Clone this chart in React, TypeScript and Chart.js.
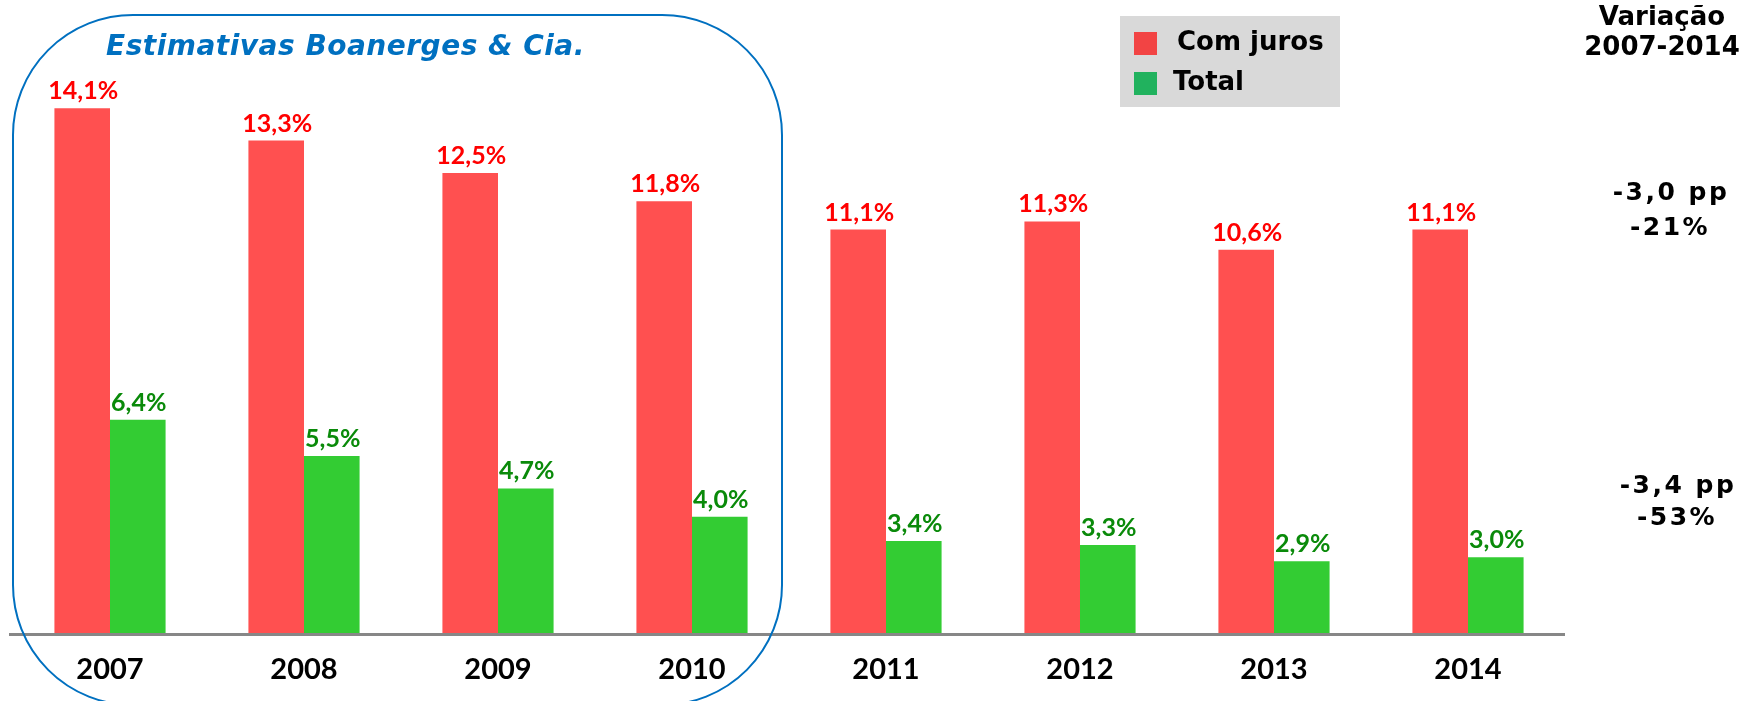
import React, { useEffect, useRef } from 'react';
import { Chart, registerables } from 'chart.js';

Chart.register(...registerables);

const years: string[] = ['2007', '2008', '2009', '2010', '2011', '2012', '2013', '2014'];
const comJuros: number[] = [14.1, 13.3, 12.5, 11.8, 11.1, 11.3, 10.6, 11.1];
const total: number[] = [6.4, 5.5, 4.7, 4.0, 3.4, 3.3, 2.9, 3.0];
const seriesNames: string[] = ['Com juros', 'Total'];
const variationHeader: string[] = ['Variação', '2007-2014'];
const variationComJuros: string[] = ['-3,0 pp', '-21%'];
const variationTotal: string[] = ['-3,4 pp', '-53%'];
const boxTitle = 'Estimativas Boanerges & Cia.';
const yMin = 1.1;
const yMax = 16.28;

const barColors = ['#FF5050', '#33CC33'];
const labelColors = ['#FF0000', '#0A8A0A'];
const legendColors = ['#F24444', '#21B25E'];

const fmt = (v: number) => v.toFixed(1).replace('.', ',') + '%';

const overlay = {
  id: 'overlay',
  beforeDraw(chart: any) {
    const ctx = chart.ctx as CanvasRenderingContext2D;
    ctx.save();
    ctx.fillStyle = '#D9D9D9';
    ctx.fillRect(1120, 16, 220, 91);
    const rows = [43, 83];
    seriesNames.forEach((name, i) => {
      ctx.fillStyle = legendColors[i];
      ctx.fillRect(1134, rows[i] - 11, 23, 23);
      ctx.fillStyle = '#000000';
      ctx.font = "bold 26px 'DejaVu Sans'";
      ctx.textAlign = 'left';
      ctx.textBaseline = 'middle';
      ctx.fillText(name, i === 0 ? 1177 : 1173, rows[i]);
    });
    ctx.restore();
  },
  afterDatasetsDraw(chart: any) {
    const ctx = chart.ctx as CanvasRenderingContext2D;
    const area = chart.chartArea;
    ctx.save();
    ctx.strokeStyle = '#878787';
    ctx.lineWidth = 3;
    ctx.beginPath();
    ctx.moveTo(area.left - 4, area.bottom + 0.5);
    ctx.lineTo(area.right, area.bottom + 0.5);
    ctx.stroke();

    ctx.font = "bold 25px Lato";
    ctx.textAlign = 'center';
    ctx.textBaseline = 'alphabetic';
    chart.data.datasets.forEach((ds: any, i: number) => {
      const meta = chart.getDatasetMeta(i);
      ctx.fillStyle = labelColors[i];
      meta.data.forEach((el: any, j: number) => {
        ctx.fillText(fmt(ds.data[j]), el.x + 1, el.y - 9);
      });
    });

    ctx.strokeStyle = '#0070C0';
    ctx.lineWidth = 2;
    ctx.beginPath();
    (ctx as any).roundRect(13, 15, 769, 690, 120);
    ctx.stroke();

    ctx.fillStyle = '#0070C0';
    ctx.font = "italic bold 28px 'DejaVu Sans'";
    (ctx as any).letterSpacing = '0.5px';
    ctx.textAlign = 'left';
    ctx.textBaseline = 'alphabetic';
    ctx.fillText(boxTitle, 106, 55);

    ctx.fillStyle = '#000000';
    ctx.textAlign = 'center';
    ctx.textBaseline = 'alphabetic';
    (ctx as any).letterSpacing = '0px';
    ctx.font = "bold 26px 'DejaVu Sans'";
    ctx.fillText(variationHeader[0], 1662, 25);
    ctx.fillText(variationHeader[1], 1662, 55);
    (ctx as any).letterSpacing = '2.5px';
    ctx.font = "bold 25px 'DejaVu Sans'";
    ctx.fillText(variationComJuros[0], 1671, 200);
    ctx.fillText(variationComJuros[1], 1670, 235);
    ctx.fillText(variationTotal[0], 1678, 493);
    ctx.fillText(variationTotal[1], 1677, 525);
    ctx.restore();
  },
};

export default function App() {
  const ref = useRef<HTMLCanvasElement | null>(null);
  useEffect(() => {
    if (!ref.current) return;
    const chart = new Chart(ref.current, {
      type: 'bar',
      data: {
        labels: years,
        datasets: [
          { label: seriesNames[0], data: comJuros, backgroundColor: barColors[0], borderWidth: 0 },
          { label: seriesNames[1], data: total, backgroundColor: barColors[1], borderWidth: 0 },
        ],
      },
      options: {
        responsive: false,
        animation: false,
        events: [],
        layout: { padding: { left: 13, right: 177, top: 20, bottom: -4 } },
        plugins: { legend: { display: false }, tooltip: { enabled: false }, title: { display: false } },
        datasets: { bar: { categoryPercentage: 0.573, barPercentage: 1.0 } },
        scales: {
          x: {
            grid: { display: false, drawTicks: false },
            border: { display: false },
            ticks: {
              color: '#000000',
              font: { family: 'Lato', size: 29, weight: 'bold', lineHeight: 1 },
              padding: 21,
              autoSkip: false,
              maxRotation: 0,
            },
          },
          y: {
            display: false,
            min: yMin,
            max: yMax,
          },
        },
      },
      plugins: [overlay],
    } as any);
    return () => chart.destroy();
  }, []);
  return (
    <div style={{ position: 'absolute', left: 0, top: 0, width: 1742, height: 701 }}>
      <canvas ref={ref} width={1742} height={701} style={{ display: 'block' }} />
    </div>
  );
}
